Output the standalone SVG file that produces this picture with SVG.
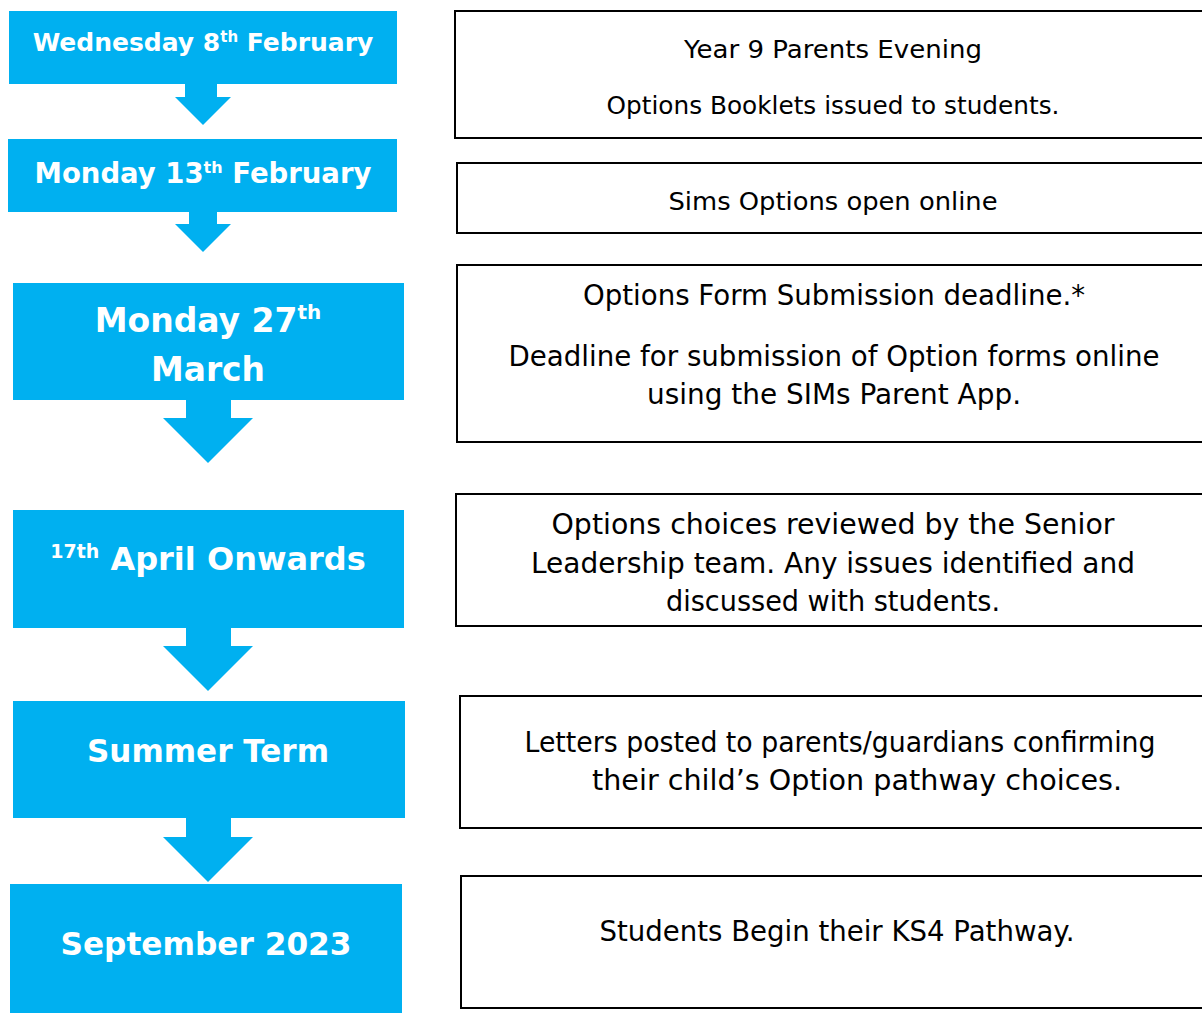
<svg xmlns="http://www.w3.org/2000/svg" width="1202" height="1013" viewBox="0 0 1202 1013">
<style>
.blue{fill:#00B0F0}
.box{fill:#fff;stroke:#000;stroke-width:2}
.lt{font-family:"DejaVu Sans","Liberation Sans",sans-serif;font-weight:bold;fill:#fff;text-anchor:middle}
.rt{font-family:"DejaVu Sans","Liberation Sans",sans-serif;fill:#000;text-anchor:middle}
</style>
<rect width="1202" height="1013" fill="#fff"/>
<g id="connectors" class="blue">
<polygon points="185,84 217,84 217,97 231,97 203,125 175,97 185,97"/>
<polygon points="189,212 217,212 217,224 231,224 203,252 175,224 189,224"/>
<polygon points="186,400 231,400 231,418 253,418 208,463 163,418 186,418"/>
<polygon points="186,628 231,628 231,646 253,646 208,691 163,646 186,646"/>
<polygon points="186,818 231,818 231,837 253,837 208,882 163,837 186,837"/>
</g>
<g id="n1"><rect class="blue" x="9" y="11" width="388" height="73"/>
<text class="lt" x="203" y="51" font-size="25">Wednesday 8<tspan font-size="15" dy="-9">th</tspan><tspan dy="9"> February</tspan></text></g>
<g id="n2"><rect class="blue" x="8" y="139" width="389" height="73"/>
<text class="lt" x="203" y="183" font-size="27.5">Monday 13<tspan font-size="16" dy="-10">th</tspan><tspan dy="10"> February</tspan></text></g>
<g id="n3"><rect class="blue" x="13" y="283" width="391" height="117"/>
<text class="lt" x="208" y="332" font-size="33">Monday 27<tspan font-size="20" dy="-13">th</tspan></text>
<text class="lt" x="208" y="381" font-size="33" textLength="114" lengthAdjust="spacingAndGlyphs">March</text></g>
<g id="n4"><rect class="blue" x="13" y="510" width="391" height="118"/>
<text class="lt" x="208" y="570" font-size="32"><tspan font-size="19" dy="-12">17th</tspan><tspan dy="12"> April Onwards</tspan></text></g>
<g id="n5"><rect class="blue" x="13" y="701" width="392" height="117"/>
<text class="lt" x="208" y="762" font-size="32" textLength="242" lengthAdjust="spacingAndGlyphs">Summer Term</text></g>
<g id="n6"><rect class="blue" x="10" y="884" width="392" height="129"/>
<text class="lt" x="206" y="955" font-size="32" textLength="291" lengthAdjust="spacingAndGlyphs">September 2023</text></g>
<g id="r1"><rect class="box" x="455" y="11" width="760" height="127"/>
<text class="rt" x="833" y="58" font-size="25" textLength="298" lengthAdjust="spacingAndGlyphs">Year 9 Parents Evening</text>
<text class="rt" x="833" y="114" font-size="25" textLength="453" lengthAdjust="spacingAndGlyphs">Options Booklets issued to students.</text></g>
<g id="r2"><rect class="box" x="457" y="163" width="760" height="70"/>
<text class="rt" x="833" y="210" font-size="25" textLength="329" lengthAdjust="spacingAndGlyphs">Sims Options open online</text></g>
<g id="r3"><rect class="box" x="457" y="265" width="760" height="177"/>
<text class="rt" x="834" y="305" font-size="27.5" textLength="502" lengthAdjust="spacingAndGlyphs">Options Form Submission deadline.*</text>
<text class="rt" x="834" y="366" font-size="27.5" textLength="651" lengthAdjust="spacingAndGlyphs">Deadline for submission of Option forms online</text>
<text class="rt" x="834" y="404" font-size="27.5" textLength="374" lengthAdjust="spacingAndGlyphs">using the SIMs Parent App.</text></g>
<g id="r4"><rect class="box" x="456" y="494" width="760" height="132"/>
<text class="rt" x="833" y="534" font-size="27.5" textLength="563" lengthAdjust="spacingAndGlyphs">Options choices reviewed by the Senior</text>
<text class="rt" x="833" y="573" font-size="27.5" textLength="604" lengthAdjust="spacingAndGlyphs">Leadership team. Any issues identified and</text>
<text class="rt" x="833" y="611" font-size="27.5" textLength="334" lengthAdjust="spacingAndGlyphs">discussed with students.</text></g>
<g id="r5"><rect class="box" x="460" y="696" width="760" height="132"/>
<text class="rt" x="840" y="752" font-size="27.5" textLength="631" lengthAdjust="spacingAndGlyphs">Letters posted to parents/guardians confirming</text>
<text class="rt" x="857" y="790" font-size="27.5" textLength="530" lengthAdjust="spacingAndGlyphs">their child’s Option pathway choices.</text></g>
<g id="r6"><rect class="box" x="461" y="876" width="760" height="132"/>
<text class="rt" x="837" y="941" font-size="27.5" textLength="475" lengthAdjust="spacingAndGlyphs">Students Begin their KS4 Pathway.</text></g>
</svg>
